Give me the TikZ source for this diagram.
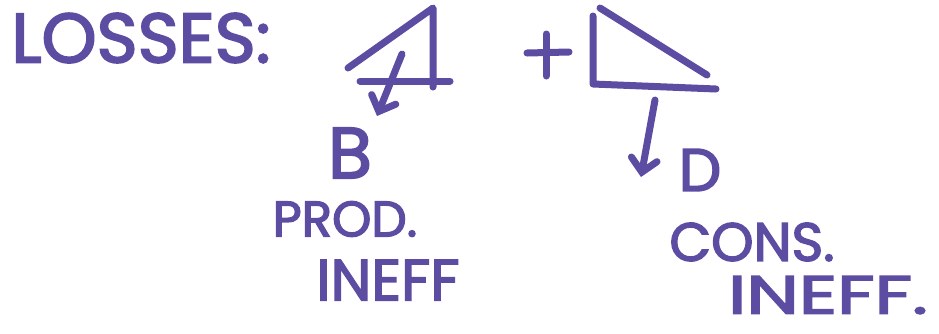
\documentclass[tikz,border=0pt]{standalone}
\usepackage{fontspec}
\setmainfont{Poppins}[FakeBold=2.6]
\usetikzlibrary{arrows.meta}
\definecolor{ink}{RGB}{92,76,162}
\tikzset{
  pen/.style={draw=ink, line width=7pt, line cap=round, line join=round},
  arr/.style={pen, -{Straight Barb[length=13pt,width=26pt,line cap=round]}},
  lbl/.style={text=ink, inner sep=0pt, anchor=center}
}
\begin{document}
\begin{tikzpicture}[x=1pt,y=-1pt]
\useasboundingbox (0,0) rectangle (939,333);
% title
\node[lbl, font=\fontsize{70}{70}\selectfont] (title) at (141,38) {LOSSES:};
% triangle 1
\coordinate (t1a) at (348,68);
\coordinate (t1b) at (433,8);
\coordinate (t1c) at (433,87);
\coordinate (t1d) at (360,81);
\coordinate (t1e) at (450,81);
\draw[pen] (t1a) -- (t1b) -- (t1c);
\draw[pen] (t1d) -- (t1e);
% plus
\coordinate (p1) at (546,34);
\coordinate (p2) at (546,76);
\coordinate (p3) at (527,53);
\coordinate (p4) at (569,52);
\draw[pen] (p1) -- (p2);
\draw[pen] (p3) -- (p4);
% triangle 2
\coordinate (t2a) at (593,16);
\coordinate (t2b) at (593,84);
\coordinate (t2c) at (716,89);
\coordinate (t2d) at (600,8);
\coordinate (t2e) at (707,75);
\draw[pen] (t2a) -- (t2b) -- (t2c);
\draw[pen] (t2d) -- (t2e);
% labels
\node[lbl, font=\fontsize{72}{72}\selectfont] (B) at (350,153) {B};
\node[lbl, font=\fontsize{50}{50}\selectfont] (prod) at (345,219) {PROD.};
\node[lbl, font=\fontsize{58}{58}\selectfont] (ineff1) at (388,280) {INEFF};
\node[lbl, font=\fontsize{60}{60}\selectfont] (D) at (700,170) {D};
\node[lbl, font=\fontsize{54}{54}\selectfont] (cons) at (752,242) {CONS.};
\node[lbl, font=\fontsize{54}{54}\selectfont] (ineff2) at (828,295) {\scalebox{1.38}[1]{INEFF.}};
% arrows
\coordinate (a1s) at (402,54);
\coordinate (a1e) at (377,116);
\draw[arr] (a1s) -- (a1e);
\coordinate (a2s) at (655,100);
\coordinate (a2e) at (641,177);
\draw[arr] (a2s) -- (a2e);
\end{tikzpicture}
\end{document}
